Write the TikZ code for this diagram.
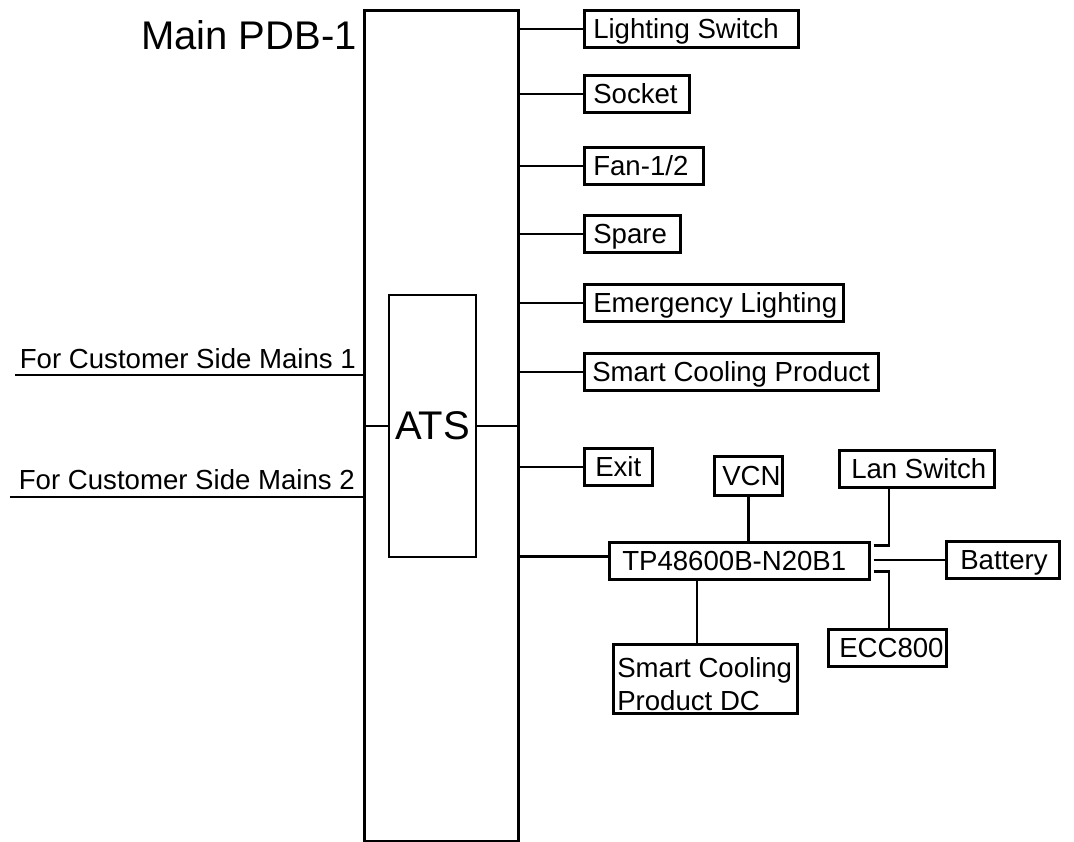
\documentclass[tikz,border=0pt]{standalone}
\usepackage{fontspec}
\setmainfont{Liberation Sans}
\newcommand\bodyfs{\fontsize{27.6}{33}\selectfont}
\newcommand\bigfs{\fontsize{40}{46}\selectfont}
\newcommand\bt[2]{\makebox[#1][l]{#2}}
\tikzset{
  wire/.style={line width=2.5pt},
  bx/.style={draw, line width=2.5pt, anchor=north west, inner ysep=0pt,
    minimum height=37pt, text height=19.5pt, text depth=0pt, font=\bodyfs},
  plain/.style={inner sep=0pt},
}
\begin{document}
\begin{tikzpicture}[x=1pt,y=-1pt]
\useasboundingbox (0,0) rectangle (1074,841);
% main distribution board
\node[draw, line width=2.5pt, anchor=north west, minimum width=154pt, minimum height=831pt, inner sep=0pt] (main) at (363,9) {};
\node[plain, anchor=base east, font=\bigfs] (title) at (357,49) {Main PDB-1};
% ATS
\node[draw, line width=2.5pt, minimum width=87pt, minimum height=262pt, inner sep=0pt, font=\bigfs] (ats) at (432.5,426) {ATS};
\draw[wire] (ats.west -| main.west) -- (ats.west);
\draw[wire] (ats.east) -- (ats.east -| main.east);
% mains inputs
\node[plain, anchor=base east, font=\bodyfs] (m1) at (356,368) {For Customer Side Mains 1};
\node[plain, anchor=base east, font=\bodyfs] (m2) at (355,489) {For Customer Side Mains 2};
\coordinate (m1s) at (15,375);
\coordinate (m2s) at (10,497);
\draw[wire] (m1s) -- (m1s -| main.west);
\draw[wire] (m2s) -- (m2s -| main.west);
% outgoing boxes
\node[bx, inner xsep=9pt] (ls) at (583,9) {\bt{196pt}{Lighting Switch}};
\node[bx, inner xsep=9pt] (sock) at (583,74) {\bt{87pt}{Socket}};
\node[bx, inner xsep=9pt] (fan) at (583,146) {\bt{101pt}{Fan-1/2}};
\node[bx, inner xsep=9pt] (spare) at (583,214) {\bt{78pt}{Spare}};
\node[bx, inner xsep=9pt] (emg) at (583,283) {\bt{241pt}{Emergency Lighting}};
\node[bx, inner xsep=8pt] (scp) at (583,352) {\bt{278pt}{Smart Cooling Product}};
\node[bx, inner xsep=11pt] (exit) at (583,447) {\bt{46pt}{Exit}};
\foreach \b in {ls,sock,fan,spare,emg,scp,exit}
  \draw[wire] (main.east |- \b.west) -- (\b.west);
% DC system
\node[bx, inner xsep=13pt] (tp) at (608,541) {\bt{234pt}{TP48600B-N20B1}};
\node[bx, inner xsep=8pt, minimum height=39pt] (vcn) at (713,455) {\bt{52pt}{VCN}};
\node[bx, inner xsep=12pt] (lan) at (838,449) {\bt{131pt}{Lan Switch}};
\node[bx, inner xsep=14pt] (bat) at (945,540) {\bt{85pt}{Battery}};
\node[bx, inner xsep=11pt] (ecc) at (827,628) {\bt{96pt}{ECC800}};
\node[draw, line width=2.5pt, anchor=north west, inner xsep=4pt, inner ysep=0pt, minimum height=69pt] (dc) at (612,643)
  {\raisebox{-5pt}[\height][\depth]{\parbox{176pt}{\bodyfs Smart Cooling\\Product DC}}};
\draw[wire] ([yshift=4.5pt]tp.west -| main.east) -- ([yshift=4.5pt]tp.west);
\draw[wire] (vcn.south) -- (vcn.south |- tp.north);
\coordinate (elx) at (889,0);
\coordinate (dcx) at (697,0);
\draw[wire] ([xshift=3pt,yshift=15.5pt]tp.east) -| (lan.south -| elx);
\draw[wire] ([xshift=3pt,yshift=-10.5pt]tp.east) -| (ecc.north -| elx);
\draw[wire] ([xshift=3pt]bat.west -| tp.east) -- (bat.west);
\draw[wire] (tp.south -| dcx) -- (dc.north -| dcx);
\end{tikzpicture}
\end{document}
